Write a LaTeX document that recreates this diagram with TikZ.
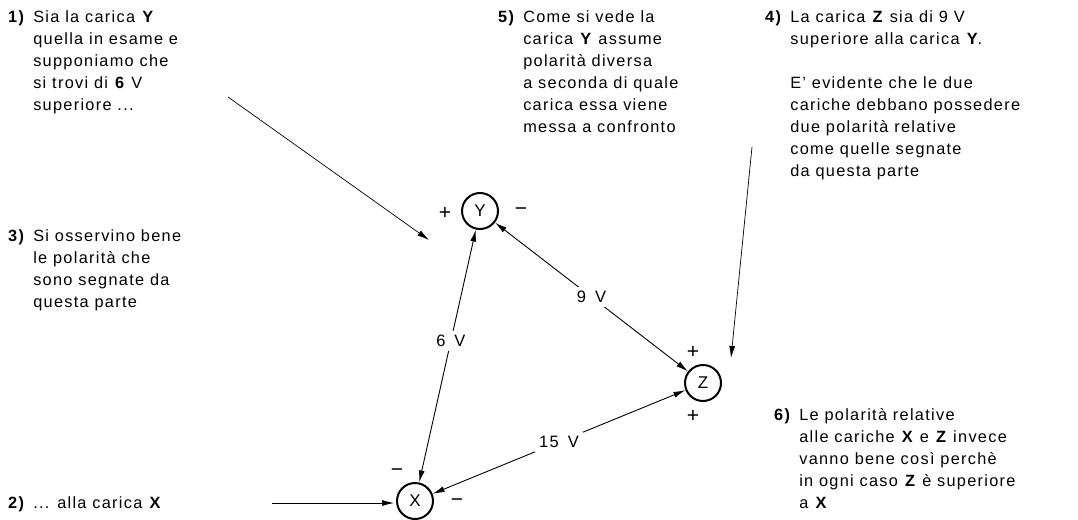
\documentclass[tikz,border=0pt]{standalone}
\usepackage{fontspec}
\setmainfont{Liberation Sans}[LetterSpace=8]
\usetikzlibrary{arrows.meta}
\tikzset{
  charge/.style={circle,draw,line width=2pt,minimum size=36pt,inner sep=0pt,font=\fontsize{17}{18}\selectfont},
  sign/.style={font=\fontsize{21}{22}\selectfont,inner sep=0pt},
  note/.style={anchor=north west,inner sep=0pt,font=\fontsize{16.3}{22}\selectfont},
  link/.style={{Latex[length=12pt,width=6pt]}-{Latex[length=12pt,width=6pt]},line width=0.9pt},
  pointer/.style={-{Latex[length=12pt,width=6pt]},line width=0.7pt},
  volt/.style={fill=white,inner sep=4pt,font=\fontsize{16.5}{18}\selectfont}
}
\newcommand{\numcol}[1]{\begin{tabular}[t]{@{}l@{\hspace{8pt}}l@{}}#1\end{tabular}}
\begin{document}
\begin{tikzpicture}[x=1pt,y=-1pt]
\useasboundingbox (0,0) rectangle (1078,519);
% charges
\node[charge] (Y) at (480,211) {Y};
\node[charge] (Z) at (703,383) {Z};
\node[charge] (X) at (415,501) {X};
% signs
\node[sign] (Yp) at (445,213) {+};
\node[sign] (Ym) at (521,212) {\char"2212};
\node[sign] (Zp1) at (693,352) {+};
\node[sign] (Zp2) at (693,416) {+};
\node[sign] (Xm1) at (397,473) {\char"2212};
\node[sign] (Xm2) at (457,503) {\char"2212};
% links
\draw[link] (Y) -- (X) node[volt,pos=0.44] (v6) {6\hspace{9pt}V};
\draw[link] (Y) -- (Z) node[volt,pos=0.5] (v9) {9\hspace{9pt}V};
\draw[link] (X) -- (Z) node[volt,pos=0.5] (v15) {15\hspace{9pt}V};
% notes
\node[note] (n1) at (8,6.6) {\numcol{\textbf{1)} & Sia la carica \textbf{Y}\\ & quella in esame e\\ & supponiamo che\\ & si trovi di \textbf{6} V\\ & superiore ...}};
\node[note] (n5) at (498,6.6) {\numcol{\textbf{5)} & Come si vede la\\ & carica \textbf{Y} assume\\ & polarità diversa\\ & a seconda di quale\\ & carica essa viene\\ & messa a confronto}};
\node[note] (n4) at (765,6.6) {\numcol{\textbf{4)} & La carica \textbf{Z} sia di 9 V\\ & superiore alla carica \textbf{Y}.\\ & \\ & E' evidente che le due\\ & cariche debbano possedere\\ & due polarità relative\\ & come quelle segnate\\ & da questa parte}};
\node[note] (n3) at (8,225.6) {\numcol{\textbf{3)} & Si osservino bene\\ & le polarità che\\ & sono segnate da\\ & questa parte}};
\node[note] (n2) at (8,492.6) {\numcol{\textbf{2)} & ... alla carica \textbf{X}}};
\node[note] (n6) at (774,404.6) {\numcol{\textbf{6)} & Le polarità relative\\ & alle cariche \textbf{X} e \textbf{Z} invece\\ & vanno bene così perchè\\ & in ogni caso \textbf{Z} è superiore\\ & a \textbf{X}}};
% pointers
\coordinate (p1s) at (228,97);
\coordinate (p1e) at (429,240);
\coordinate (p4s) at (752,147);
\coordinate (p4e) at (731,358);
\coordinate (p2s) at (272,503);
\coordinate (p2e) at (394,503);
\draw[pointer] (p1s) -- (p1e);
\draw[pointer] (p4s) -- (p4e);
\draw[pointer] (p2s) -- (p2e);
\end{tikzpicture}
\end{document}
